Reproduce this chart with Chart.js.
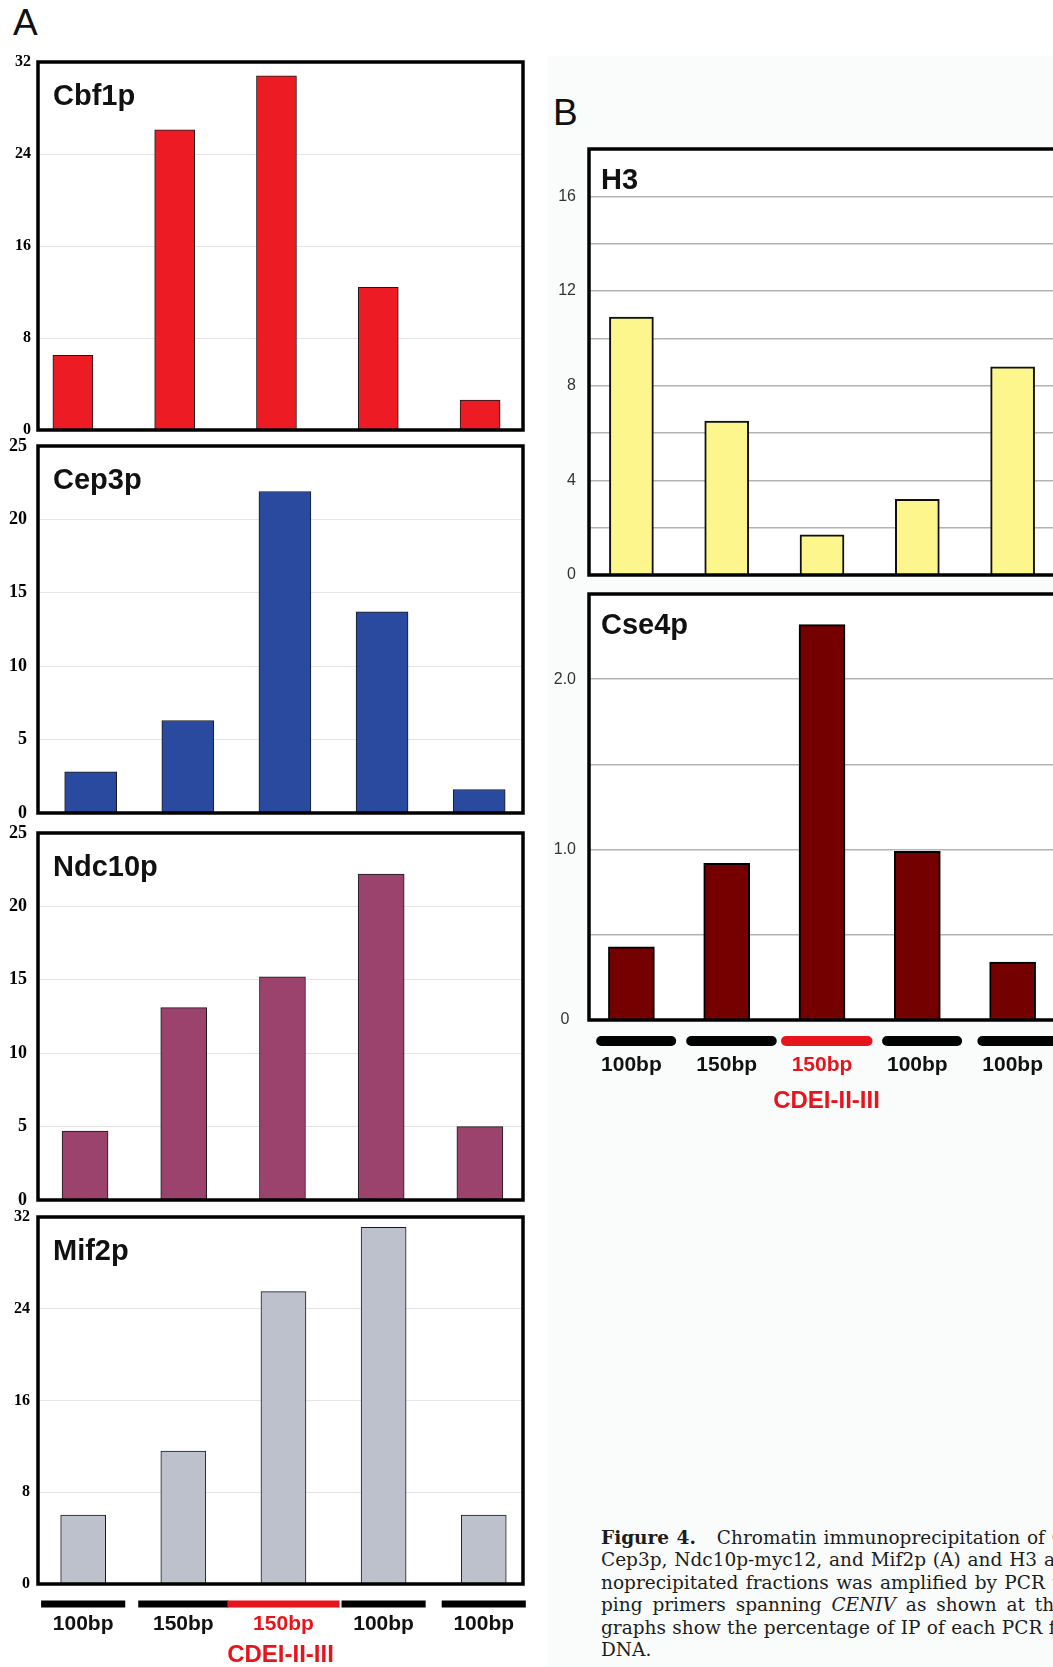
<!DOCTYPE html>
<html>
<head>
<meta charset="utf-8">
<script src="https://cdn.jsdelivr.net/npm/chart.js@4.4.1/dist/chart.umd.min.js"></script>
<style>
  html, body { margin: 0; padding: 0; background: #ffffff; }
  body { width: 1053px; height: 1667px; overflow: hidden; position: relative; }
  .tint { position: absolute; left: 548px; top: 56px; right: 0; bottom: 0; background: #fafcfc; }
  .panel-letter { position: absolute; font-family: "Liberation Sans", Arial, sans-serif; font-size: 37px; line-height: 37px; color: #111; }
  canvas { position: absolute; }
  .caption { position: absolute; left: 601px; top: 1527px; font-family: "DejaVu Serif", serif; font-size: 18.5px; line-height: 22.4px; color: #1c1c1c; white-space: nowrap; }
</style>
</head>
<body>
<div class="tint"></div>
<div class="panel-letter" style="left: 13px; top: 4px;">A</div>
<div class="panel-letter" style="left: 553px; top: 94px;">B</div>

<canvas id="chart-cbf1p"></canvas>
<canvas id="chart-cep3p"></canvas>
<canvas id="chart-ndc10p"></canvas>
<canvas id="chart-mif2p"></canvas>
<canvas id="chart-h3"></canvas>
<canvas id="chart-cse4p"></canvas>

<div class="caption">
  <div style="word-spacing: 1px;"><b>Figure 4.</b><span style="display: inline-block; width: 21px;"></span>Chromatin immunoprecipitation of Cbf1p,</div>
  <div style="word-spacing: 1px;">Cep3p, Ndc10p-myc12, and Mif2p (A) and H3 and Cse4p</div>
  <div style="word-spacing: 1.5px;">noprecipitated fractions was amplified by PCR using</div>
  <div style="word-spacing: 4px;">ping primers spanning <i>CENIV</i> as shown at the bottom.</div>
  <div style="word-spacing: 0.5px;">graphs show the percentage of IP of each PCR fragment</div>
  <div>DNA.</div>
</div>

<script>
// CENIV PCR 단편 (왼쪽 → 오른쪽)
const fragmentLabels = ['100bp', '150bp', '150bp', '100bp', '100bp'];
const fragmentBp = [100, 150, 150, 100, 100];
const fragmentCore = [false, false, true, false, false];
const coreName = 'CDEI-II-III';

// % IP 값 (A)
const cbf1pValues = [6.5, 26.1, 30.8, 12.4, 2.6];
const cep3pValues = [2.8, 6.3, 21.9, 13.7, 1.6];
const ndc10pValues = [4.7, 13.1, 15.2, 22.2, 5.0];
const mif2pValues = [6.0, 11.6, 25.5, 31.1, 6.0];

// % IP 값 (B)
const h3Values = [10.9, 6.5, 1.7, 3.2, 8.8];
const cse4pValues = [0.43, 0.92, 2.32, 0.99, 0.34];

const RED = '#e8141c';
const SANS = '"Liberation Sans", Arial, Helvetica, sans-serif';
const SERIF = '"Liberation Serif", "Times New Roman", serif';

// 단편 막대 스타일 (A: 각진 끝, B: 둥근 끝)
const fragStyleA = { segOffset: 20, segWidth: 7, cap: 'butt', tickLen: 28, axisHeight: 86, shift: 0, half100: 0.42, half150: 0.45, coreHalf: 0.56 };
const fragStyleB = { segOffset: 21, segWidth: 10, cap: 'round', tickLen: 33, axisHeight: 96, shift: 0.05, half100: 0.42, half150: 0.475, coreHalf: 0.48 };

/**
 * 박스 테두리, 패널 제목, 하단 단편 막대를 그리는 플러그인
 */
function makePanelPlugin(cfg) {
  return {
    id: 'panelDecor',
    beforeDraw(chart) {
      if (!cfg.areaFill) return;
      const { ctx, chartArea: a } = chart;
      ctx.save();
      ctx.fillStyle = cfg.areaFill;
      ctx.fillRect(a.left, a.top, a.right - a.left, a.bottom - a.top);
      ctx.restore();
    },
    afterDatasetsDraw(chart) {
      const { ctx, chartArea: a } = chart;
      ctx.save();
      ctx.lineWidth = 3.5;
      ctx.strokeStyle = '#000';
      ctx.strokeRect(a.left, a.top, a.right - a.left, a.bottom - a.top);

      ctx.font = `bold 29px ${SANS}`;
      ctx.fillStyle = '#111';
      ctx.textAlign = 'left';
      ctx.textBaseline = 'alphabetic';
      ctx.fillText(cfg.title, a.left + cfg.titleDx, a.top + cfg.titleDy);

      if (cfg.frag) {
        const xs = chart.scales.x;
        const st = cfg.frag;
        const y = a.bottom + st.segOffset;
        ctx.lineWidth = st.segWidth;
        ctx.lineCap = st.cap;
        fragmentBp.forEach((bp, i) => {
          const half = fragmentCore[i] ? st.coreHalf : (bp >= 150 ? st.half150 : st.half100);
          const c = i + st.shift;
          let x0 = xs.getPixelForValue(c - half);
          let x1 = xs.getPixelForValue(c + half);
          if (st.cap === 'round') {
            x0 += st.segWidth / 2;
            x1 -= st.segWidth / 2;
          }
          ctx.strokeStyle = fragmentCore[i] ? RED : '#000';
          ctx.beginPath();
          ctx.moveTo(x0, y);
          ctx.lineTo(x1, y);
          ctx.stroke();
        });
      }
      ctx.restore();
    }
  };
}

function makePanel(cfg) {
  const padL = 2, padR = 4, padT = 14;
  const padB = cfg.frag ? 2 : 12;
  const areaW = cfg.box.r - cfg.box.l;
  const areaH = cfg.box.b - cfg.box.t;
  const xH = cfg.frag ? cfg.frag.axisHeight : 0;

  const canvas = document.getElementById(cfg.id);
  canvas.width = padL + cfg.yWidth + areaW + padR;
  canvas.height = padT + areaH + xH + padB;
  canvas.style.width = canvas.width + 'px';
  canvas.style.height = canvas.height + 'px';
  canvas.style.left = (cfg.box.l - cfg.yWidth - padL) + 'px';
  canvas.style.top = (cfg.box.t - padT) + 'px';

  const xScale = {
    type: 'linear',
    min: cfg.xMin,
    max: cfg.xMax,
    offset: false,
    bounds: 'data',
    display: false
  };

  if (cfg.frag) {
    Object.assign(xScale, {
      display: true,
      grid: { display: true, offset: false, drawOnChartArea: false, drawTicks: true, tickLength: cfg.frag.tickLen, color: 'rgba(0,0,0,0)' },
      border: { display: false },
      afterBuildTicks: (scale) => {
        scale.ticks = fragmentLabels.map((_, i) => ({ value: i }));
      },
      ticks: {
        padding: 0,
        maxRotation: 0,
        autoSkip: false,
        font: { family: SANS, size: 21, weight: 'bold' },
        color: (c) => (fragmentCore[c.index] ? RED : '#111'),
        callback: (value) => fragmentLabels[value]
      },
      title: {
        display: true,
        text: coreName,
        color: RED,
        padding: 0,
        font: { family: SANS, size: 24, weight: 'bold' }
      },
      afterFit: (scale) => {
        scale.height = xH;
        scale.paddingLeft = 0;
        scale.paddingRight = 0;
      }
    });
  }

  return new Chart(canvas, {
    type: 'bar',
    data: {
      datasets: [{
        data: cfg.values.map((v, i) => ({ x: i, y: v })),
        backgroundColor: cfg.color,
        borderColor: cfg.barBorder,
        borderWidth: cfg.barBorderWidth,
        barThickness: cfg.barThickness
      }]
    },
    options: {
      responsive: false,
      animation: false,
      events: [],
      layout: { padding: { left: padL, right: padR, top: padT, bottom: padB } },
      plugins: { legend: { display: false }, tooltip: { enabled: false } },
      scales: {
        x: xScale,
        y: {
          min: 0,
          max: cfg.yMax,
          afterFit: (scale) => {
            scale.width = cfg.yWidth;
            scale.paddingTop = 0;
            scale.paddingBottom = 0;
          },
          ticks: {
            stepSize: cfg.yStep,
            padding: cfg.tickPad,
            crossAlign: cfg.crossAlign || 'near',
            font: cfg.tickFont,
            color: cfg.tickColor,
            callback: cfg.tickCallback || ((v) => v)
          },
          grid: { color: cfg.gridColor, lineWidth: cfg.gridWidth, drawTicks: false },
          border: { display: false }
        }
      }
    },
    plugins: [makePanelPlugin(cfg)]
  });
}

// A 패널 공통
const boxA = { l: 38, r: 523 };
const panelA = {
  yWidth: 36,
  tickColor: '#000',
  gridColor: '#e4e4e4',
  gridWidth: 1,
  barBorder: '#1a1a1a',
  barBorderWidth: 1,
  titleDx: 15,
  titleDy: 43
};

makePanel({
  ...panelA, id: 'chart-cbf1p', title: 'Cbf1p', values: cbf1pValues,
  box: { ...boxA, t: 62, b: 430 }, yMax: 32, yStep: 8, tickPad: 7,
  tickFont: { family: SERIF, size: 16, weight: 'bold' },
  xMin: -0.3425, xMax: 4.4216, barThickness: 40, color: '#ed1c24'
});

makePanel({
  ...panelA, id: 'chart-cep3p', title: 'Cep3p', values: cep3pValues,
  box: { ...boxA, t: 446, b: 813 }, yMax: 25, yStep: 5, tickPad: 11,
  tickFont: { family: SERIF, size: 18, weight: 'bold' },
  xMin: -0.5425, xMax: 4.4512, barThickness: 52, color: '#2a4aa0'
});

makePanel({
  ...panelA, id: 'chart-ndc10p', title: 'Ndc10p', values: ndc10pValues,
  box: { ...boxA, t: 833, b: 1200 }, yMax: 25, yStep: 5, tickPad: 11,
  tickFont: { family: SERIF, size: 18, weight: 'bold' },
  xMin: -0.4766, xMax: 4.4369, barThickness: 46, color: '#9b426d'
});

makePanel({
  ...panelA, id: 'chart-mif2p', title: 'Mif2p', values: mif2pValues,
  box: { ...boxA, t: 1217, b: 1584 }, yMax: 32, yStep: 8, tickPad: 8,
  tickFont: { family: SERIF, size: 16, weight: 'bold' },
  xMin: -0.4511, xMax: 4.392, barThickness: 45, color: '#bcc1cb',
  frag: fragStyleA
});

// B 패널 공통 (오른쪽 테두리는 화면 밖)
const boxB = { l: 589, r: 1064 };
const panelB = {
  yWidth: 50,
  tickColor: '#333',
  tickFont: { family: SANS, size: 16 },
  tickPad: 13,
  gridColor: '#b3b3b3',
  gridWidth: 1.5,
  barBorder: '#111',
  barBorderWidth: 2,
  titleDx: 12,
  titleDy: 40,
  xMin: -0.445,
  xMax: 4.539,
  areaFill: '#ffffff'
};

makePanel({
  ...panelB, id: 'chart-h3', title: 'H3', values: h3Values,
  box: { ...boxB, t: 149, b: 575 }, yMax: 18, yStep: 2,
  tickCallback: (v) => (v % 4 === 0 ? String(v) : ''),
  barThickness: 44, color: '#fdf68c'
});

makePanel({
  ...panelB, id: 'chart-cse4p', title: 'Cse4p', values: cse4pValues,
  box: { ...boxB, t: 594, b: 1020 }, yMax: 2.5, yStep: 0.5,
  crossAlign: 'center',
  tickCallback: (v) => (v === 0 ? '0' : (Number.isInteger(v) ? v.toFixed(1) : '')),
  barThickness: 46, color: '#750000', barBorder: '#000',
  frag: fragStyleB
});
</script>
</body>
</html>
